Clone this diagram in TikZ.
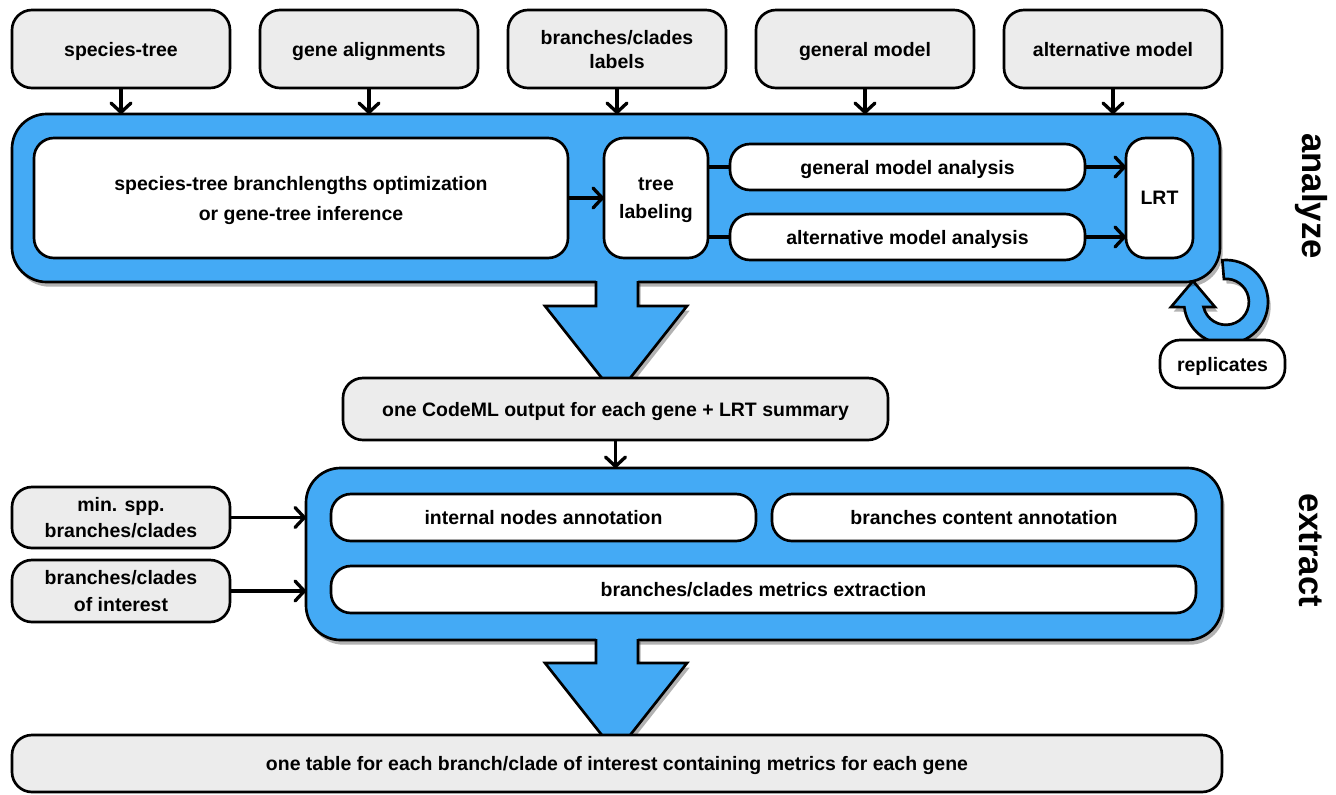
\documentclass[tikz,border=0pt]{standalone}
\usepackage{fontspec}
\setmainfont{Liberation Sans}
\usetikzlibrary{arrows.meta,shadows}
\definecolor{bluefill}{RGB}{68,170,245}
\definecolor{grayfill}{RGB}{236,236,236}
\newcommand\bx[7]{\node[#6, minimum width={(#4-#2)*0.75pt}, minimum height={(#5-#3)*0.75pt}] (#1) at ({(#2+#4)/2},{(#3+#5)/2}) {#7};}
\begin{document}
\begin{tikzpicture}[x=0.75pt,y=-0.75pt,
  base/.style={draw=black, line width=2pt, rounded corners=15pt, inner sep=0pt, outer sep=0pt, align=center, font=\bfseries\fontsize{14.6}{20}\selectfont, text depth=0pt},
  inbox/.style={base, fill=grayfill},
  wbox/.style={base, fill=white},
  shad/.style={drop shadow={shadow xshift=2pt, shadow yshift=-3.5pt, opacity=0.3, fill=black}},
  bigbox/.style={draw=black, line width=2pt, rounded corners=26pt, fill=bluefill, inner sep=0pt, outer sep=0pt, shad},
  conn/.style={line width=2.5pt, -{Straight Barb[length=7pt,width=15pt,round]}},
  plain/.style={line width=2.6pt},
  bigarrow/.style={line width=2pt, line join=miter},
  side/.style={rotate=-90, font=\bfseries\fontsize{26}{30}\selectfont}
]
\useasboundingbox (0,0) rectangle (1336,794);

% top input boxes
\bx{st}{12}{10}{230}{88}{inbox}{species-tree}
\bx{ga}{260}{10}{478}{88}{inbox}{gene alignments}
\bx{bcl}{508}{10}{726}{88}{inbox,font=\bfseries\fontsize{14.6}{18}\selectfont}{branches/clades\\labels}
\bx{gm}{756}{10}{974}{88}{inbox}{general model}
\bx{am}{1004}{10}{1222}{88}{inbox}{alternative model}

% replicates loop arrow (behind the analyze box)
\path[fill=bluefill, draw=black, line width=2pt, line join=miter, shad]
  (1226,302) ++(-95:42) arc[start angle=-95, end angle=173, radius=42]
  -- (1171,307) -- (1193,281) -- (1215,307) -- (1203.5,307)
  arc[start angle=167, end angle=-95, radius=23] -- cycle;

% analyze box
\bx{an}{12}{114}{1220}{282}{bigbox}{}
\foreach \n in {st,ga,bcl,gm,am} \draw[conn] (\n.south) -- (\n.south |- an.north);

\bx{opt}{34}{138}{568}{258}{wbox,font=\bfseries\fontsize{14.6}{22.5}\selectfont}{species-tree branchlengths optimization\\or gene-tree inference}
\bx{tl}{604}{138}{708}{258}{wbox,font=\bfseries\fontsize{14.6}{21}\selectfont}{tree\\labeling}
\bx{gma}{730}{144}{1085}{190}{wbox}{general model analysis}
\bx{ama}{730}{214}{1085}{260}{wbox}{alternative model analysis}
\bx{lrt}{1126}{138}{1193}{258}{wbox}{LRT}

\draw[conn] (opt.east) -- (tl.west);
\draw[plain] (tl.east |- gma.west) -- (gma.west);
\draw[plain] (tl.east |- ama.west) -- (ama.west);
\draw[conn] (gma.east) -- (gma.east -| lrt.west);
\draw[conn] (ama.east) -- (ama.east -| lrt.west);

\bx{rep}{1160}{340}{1285}{388}{wbox}{replicates}

\node[side] (lana) at (1311,196) {analyze};

% big arrow 1
\path[fill=bluefill, shad] (596,279) -- (596,306) -- (545,306) -- (616,396) -- (687,306) -- (638,306) -- (638,279) -- cycle;
\draw[bigarrow] (596,281) -- (596,306) -- (545,306) -- (616,396) -- (687,306) -- (638,306) -- (638,281);

\bx{out}{343}{378}{888}{440}{inbox}{one CodeML output for each gene + LRT summary}

% extract box
\bx{ex}{306}{468}{1222}{640}{bigbox}{}
\draw[conn] (out.south) -- (out.south |- ex.north);

\bx{ina}{331}{494}{756}{541}{wbox}{internal nodes annotation}
\bx{bca}{772}{494}{1196}{541}{wbox}{branches content annotation}
\bx{bme}{331}{566}{1196}{613}{wbox}{branches/clades metrics extraction}

\bx{msp}{12}{487}{230}{548}{inbox}{min. spp.\\branches/clades}
\bx{boi}{12}{560}{230}{622}{inbox}{branches/clades\\of interest}
\draw[conn] (msp.east) -- (msp.east -| ex.west);
\draw[conn] (boi.east) -- (boi.east -| ex.west);

\node[side] (lext) at (1311,550) {extract};

% big arrow 2
\path[fill=bluefill, shad] (596,637) -- (596,663) -- (545,663) -- (616,753) -- (687,663) -- (638,663) -- (638,637) -- cycle;
\draw[bigarrow] (596,639) -- (596,663) -- (545,663) -- (616,753) -- (687,663) -- (638,663) -- (638,639);

\bx{res}{12}{735}{1222}{792}{inbox}{one table for each branch/clade of interest containing metrics for each gene}
\end{tikzpicture}
\end{document}
